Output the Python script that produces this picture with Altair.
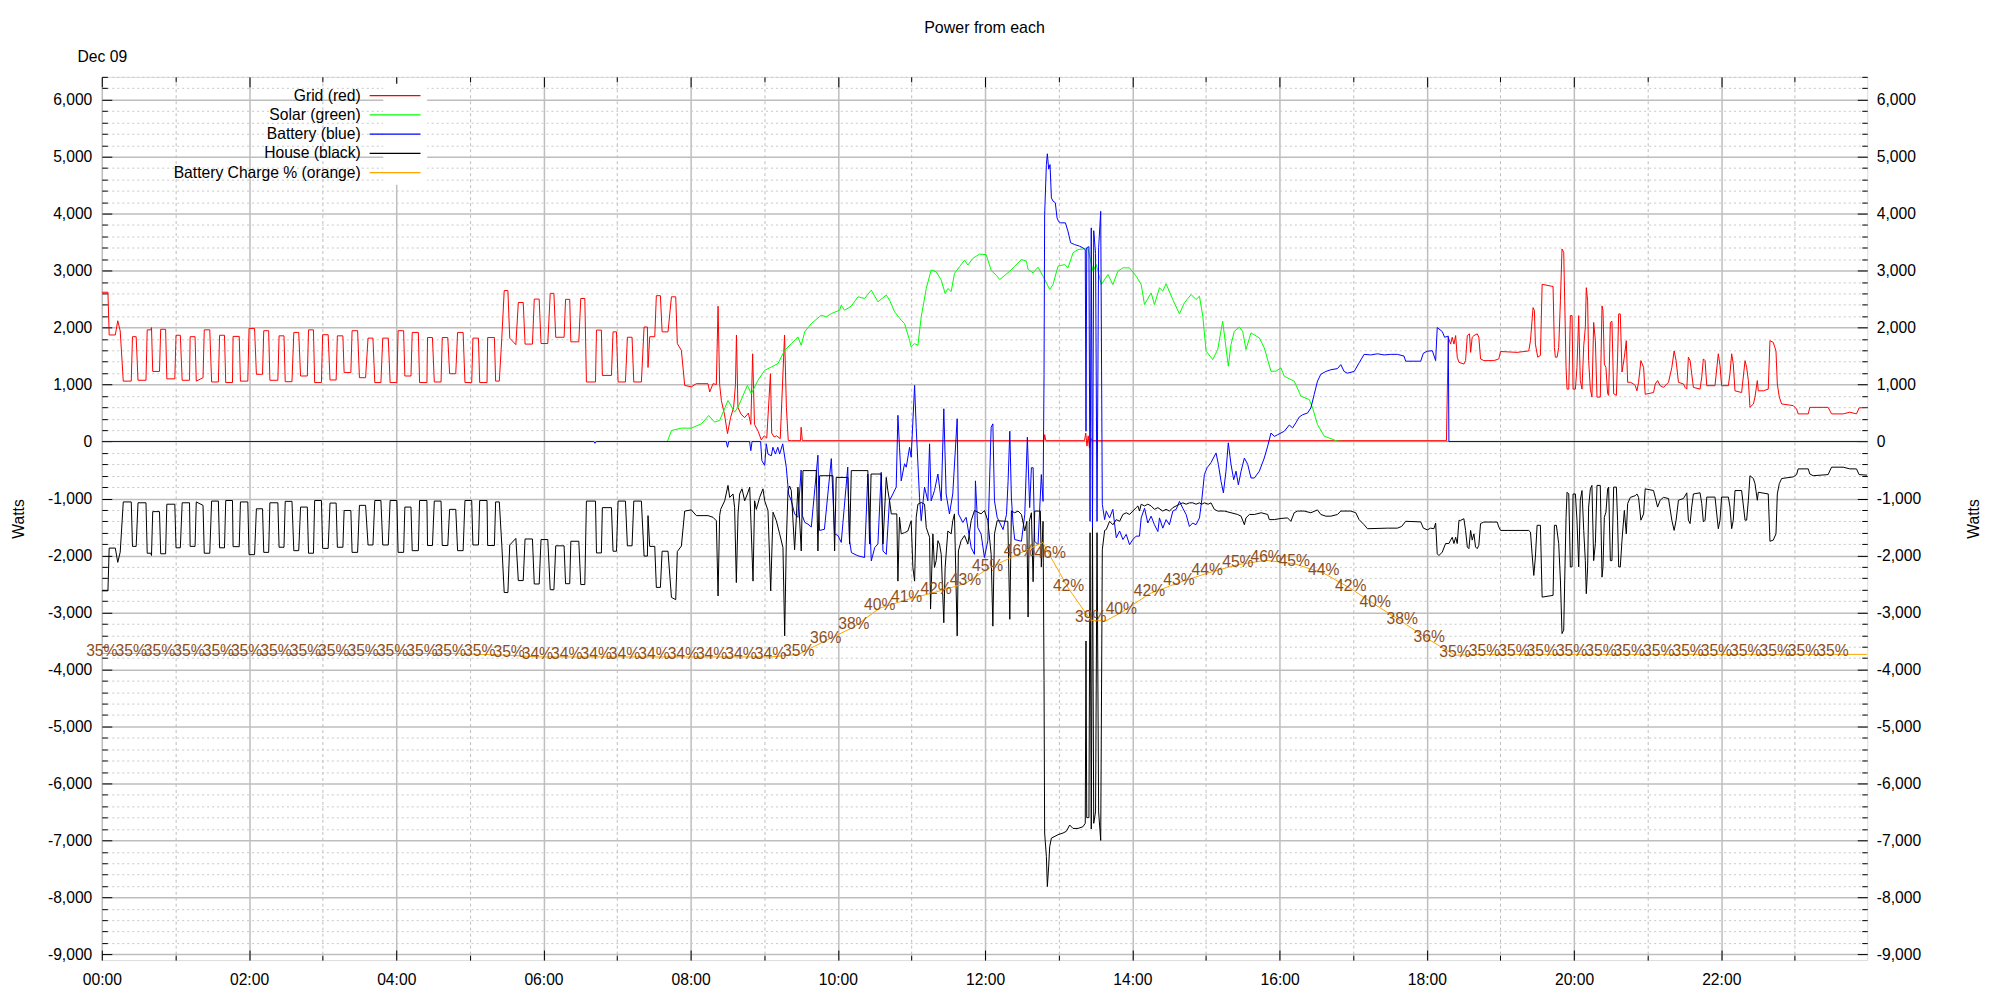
import altair as alt
import pandas as pd

# ---------------- data (minute of day, watts) ----------------
GRID = [
(0,2620),(5,2620),(6,1870),(11,1870),(13,2120),(15,1940),(17.5,1060),(24,1060),
(25,1840),(28,1840),(29.5,1075),(36,1075),(37,1960),(40,1960),(40.5,2000),(41.5,1230),(47,1230),
(48,1970),(52,1970),(53,1100),(59.5,1100),(60.5,1865),(64,1865),(65.5,1075),(71.5,1075),
(72,1840),(76,1840),(77,1060),(82.5,1120),(83.5,1960),(88,1960),(89.5,1045),(95,1045),
(96,1865),(100,1865),(101,1035),(106.5,1035),(107,1845),(112,1845),(113,1060),(119,1060),
(120,1985),(124.5,1985),(126,1180),(131,1180),(132,1945),(136,1945),(137,1075),(143.5,1075),
(144.5,1855),(148.5,1855),(149.5,1050),(155,1050),(156.5,1915),(160.5,1915),(162,1150),(167.5,1150),
(168.5,1960),(172.5,1960),(173.5,1035),(179,1035),(180,1875),(184.5,1875),(186,1080),(191,1080),
(192,1855),(196.5,1855),(197.5,1210),(203,1210),(204,1945),(208.5,1945),(210,1120),(215,1120),
(217,1815),(221,1815),(222.5,1035),(227.5,1035),(229,1815),(233.5,1815),(235,1035),(240.5,1035),
(241.5,1945),(246,1945),(247,1150),(252,1150),(253,1915),(258,1915),(259,1035),(265,1035),
(265.5,1825),(269.5,1825),(271,1045),(276.5,1045),(277.5,1825),(282,1825),(283.5,1190),(288.5,1190),
(290,1915),(294.5,1915),(296,1035),(301.5,1035),(302.5,1815),(307,1815),(308,1035),(314,1035),
(314.5,1825),(320,1825),(321,1060),(324,1060),(326,1800),(328,2650),(331,2650),(332.5,1815),
(337.5,1700),(339.5,2440),(343.5,2440),(345,1710),(351,1710),(352.5,2500),(356.5,2500),(358,1720),
(363.5,1720),(365.5,2600),(368.5,2600),(370,1830),(376.8,1830),(378,2495),(381.4,2495),(382.3,1750),
(388.8,1750),(390.4,2510),(393.7,2510),(395,1045),(402.4,1045),(403.2,1955),(407.2,1955),(408,1160),
(415.4,1160),(416.7,1925),(419.5,1925),(420.8,1045),(426.8,1045),(428.4,1830),(432.2,1830),(433.6,1045),
(439.8,1045),(442,2010),(444.7,2010),(445.2,1300),(446.6,1840),(450.7,1840),(452,2560),(455.3,2560),
(456.7,1925),(461.5,1925),(464.3,2540),(467.8,2540),(469.1,1720),(472.4,1600),(475.1,985),(480.5,960),
(484.6,1015),(494.1,1015),(495.5,870),(498.2,1015),(500.9,1000),(502.3,2375),(503.6,1000),
(505,720),(507.5,480),(510,140),(512.5,420),(515,600),(516.5,1000),(517.3,1870),(518.5,600),(521,480),
(524,420),(527,500),(529,300),(530.5,1540),(532,300),(535,180),(537.5,30),(540,100),(542,60),(545,1190),
(546,150),(548,80),(550,100),(553,50),(556.5,1870),(558,600),(559.5,20),(562,15),(569.5,15),(570,250),
(571,15),(768,15),(768.5,120),(769.5,15),(801,15),(802,150),(803,-80),(804,100),(805,-110),(806,60),
(807,15),(1096,15),
(1097.5,1830),(1099.4,1710),(1100.7,1830),(1102.1,1710),(1103.5,1860),(1104.8,1480),(1106.2,1390),
(1110.2,1360),(1111.6,1420),(1113,1860),(1114.8,1890),(1115.7,1565),(1117,1830),(1118.4,1860),(1121.1,1890),
(1122.4,1830),(1123.8,1450),(1126.5,1420),(1134.6,1420),(1138.7,1450),(1140.1,1580),(1153.6,1565),
(1163.1,1590),(1164.5,1770),(1166.6,2350),(1167.7,2300),(1168.5,1710),(1170.4,1480),(1172.6,1510),
(1174,2760),(1182.9,2720),(1184,1650),(1184.8,1480),(1186.2,1480),(1187.5,1650),(1188.9,2470),
(1190.2,3380),(1191.6,3320),(1192.4,2470),(1193.5,1300),(1194.3,920),(1195.7,920),(1197,2210),
(1198.4,2210),(1199.2,920),(1201.1,920),(1202.4,1300),(1203.8,2210),(1205.1,1070),(1206.5,920),
(1207.9,1680),(1209.2,2000),(1210,2700),(1211.1,2470),(1211.9,1420),(1213.3,920),(1214.6,780),
(1216,2090),(1217.4,1770),(1218.7,780),(1221.4,780),(1222.8,2380),(1223.6,2300),(1224.7,1360),
(1226,1300),(1227.4,840),(1228.2,810),(1229.6,2090),(1230.9,2110),(1232.3,840),(1234.5,810),
(1235.5,1480),(1236.4,2240),(1237.7,2240),(1239.1,1220),(1241,1480),(1242.6,1770),(1243.7,1040),
(1245.9,1040),(1248.6,1010),(1249.9,980),(1251.3,890),(1252.6,1040),(1254.5,1420),(1256.7,1300),
(1258,830),(1264.8,860),(1266.2,1010),(1268.1,1070),(1270.2,980),(1272.9,950),(1277,1040),
(1279.7,1300),(1281.6,1590),(1283.2,1420),(1285.1,1040),(1289.2,1010),(1290.5,950),(1291.9,920),
(1293.2,1480),(1294.6,1420),(1295.9,1190),(1297.3,950),(1302.7,920),(1304.1,1130),(1305.4,1450),
(1306.8,1420),(1308.2,980),(1314.9,980),(1317.6,1540),(1319,1330),(1320.3,980),(1325.8,980),
(1327.1,1190),(1328.5,1540),(1329.8,1360),(1331.2,890),(1336.6,860),(1339.4,1420),(1340.7,1300),
(1342.1,1070),(1343.4,600),(1346.2,660),(1347.5,780),(1349.4,1070),(1350.2,890),(1354.3,890),
(1358.3,920),(1359.7,1770),(1362.4,1740),(1364.6,1590),(1365.7,1010),(1367.3,780),(1369.2,660),
(1378.7,630),(1381.4,570),(1382.7,485),(1390.9,485),(1392.2,600),(1407.1,600),(1409.9,485),
(1419.4,485),(1424.8,515),(1430.2,485),(1432.4,590),(1439,600),
]

SOLAR = [
(461,0),(464.3,194),(472.4,235),(480.5,235),(488.7,311),(494.7,457),(499.5,340),(503.6,370),
(510.4,721),(515.8,516),(518.6,604),(526.2,985),(529.4,839),(534.8,1073),(540.3,1250),(545.7,1308),
(551.1,1367),(556.6,1601),(562,1718),(567.4,1836),(570.1,1689),(572.9,1924),(578.3,2070),(586.4,2217),
(590.5,2188),(594.6,2246),(601.4,2305),(602.7,2393),(605.4,2305),(610.9,2375),(616.3,2540),(621.7,2510),
(627.2,2657),(632.6,2452),(639.4,2570),(642.1,2481),(646.2,2276),(651.6,2129),(654.3,2070),(658.4,1777),
(659.7,1660),(662.5,1718),(665.2,1690),(667.9,2188),(672,2686),(676,3009),(680.1,2980),(684.2,2833),
(687.4,2598),(689.6,2686),(692.3,2630),(695,2950),(699.1,3067),(703.2,3185),(705.9,3097),(710,3214),
(715.4,3290),(720.8,3280),(725,3000),(729,2920),(731.9,2843),(740.1,2989),(744.1,3077),(749.6,3194),
(753.6,3165),(755,3019),(759.1,2960),(763.1,3060),(767.2,2902),(772.6,2668),(775.3,2755),(779.4,3077),
(784.8,3106),(787.5,3048),(791.6,3311),(795.7,3370),(803.8,3387),(807.9,2989),(810.6,3106),(814.7,2755),
(820.1,2931),(824.1,2755),(828.2,2989),(832.3,3048),(837.7,3048),(843.1,2902),(847.2,2755),(849.9,2404),
(855.3,2609),(858,2404),(862.1,2697),(864.8,2640),(867.5,2767),(872.9,2492),(878.4,2240),(882.4,2434),
(887.9,2580),(891.9,2492),(894.7,2550),(897.4,2200),(900.1,1585),(905.5,1439),(909.6,1615),(913.6,2112),
(918.2,1322),(920.4,1702),(923.1,1936),(927.2,2007),(929.9,1936),(932.6,1615),(936.7,1907),(943.5,1819),
(947.5,1644),(953,1234),(957,1234),(961.1,1293),(963.8,1146),(972,1059),(977.4,796),(984.2,737),
(986.9,591),(990.9,298),(996.4,94),(1007.2,6),(1012.6,0),(1439,0),
]

BATTERY = [
(0,0),(401,0),(402,-30),(403,0),(509,0),(510,-100),(511,0),(528,0),(529,-160),(530,0),(537,0),
(538,-335),(540.3,-420),(541.6,-40),(543,-220),(545.7,-250),(547,-100),(549,-220),(551,-100),(552.5,-220),
(555,-40),(557.9,-450),(559.8,-920),(562,-1040),(564.7,-1270),(567.4,-1330),(570,-500),(571,-1300),
(573,-1420),(575.6,-1450),(578.3,-1500),(583.7,-240),(585,-1560),(589,-1540),(594.6,-300),(597.3,-1620),
(600,-1650),(602.7,-1770),(608,-450),(609.5,-1740),(611,-1950),(616.3,-2005),(621.7,-2035),(624.4,-570),
(627.2,-2095),(630,-1860),(632.6,-1800),(635.3,-540),(636.7,-1920),(639.4,-1980),(642,-1040),(644.8,-920),
(647.5,-800),(648.9,460),(650.2,-100),(651.6,-690),(654.3,-390),(655.7,-450),(658.4,-100),(659.7,-275),
(662.5,985),(663.8,250),(666.5,-980),(667.9,-1390),(670.6,-800),(673.3,-1040),(674.7,-40),(676,-1040),
(678.7,-860),(681.5,-570),(684.2,-1040),(686.3,575),(688.2,-920),(690.9,-1270),(693.6,-920),(697.2,400),
(698.2,-1270),(701.8,-1420),(704.5,-1330),(708.6,-1860),(711.3,-1980),(712.1,-690),(714,-1510),(716.7,-1625),
(719.4,-2035),(722.2,-1740),(724.9,250),(726.3,310),(727.6,-1040),(729.8,-1330),
(734.6,-1545),(737.4,-1280),(738.7,-700),(740.1,181),(741.4,-990),(742.8,-1460),(744.1,-1720),(749.6,-1750),
(752.3,-1280),(754.4,76),(756.3,-1160),(757.7,-460),(759.1,-460),(760.4,-1750),(763.1,-1810),(765.8,-580),
(767.2,-1050),(768,1176),(768.5,3984),(769.9,4860),(770.7,5050),(771.8,4780),(772.9,4860),(774,4276),
(775.3,4220),(777.2,4190),(778.6,3925),(779.9,3860),(781.6,3838),(785.4,3838),(787.5,3691),(789.7,3487),
(792.9,3457),(797,3428),(799.7,3399),(801.6,3370),
(802.2,180),(802.8,3400),(804.6,3420),(805.5,-1400),(806.5,3750),(807.5,-1500),(808.5,3700),(810,3300),
(811.2,-1400),(812.5,3400),(814.2,4040),(815.5,-1100),(817.4,-1370),
(818.7,-1223),(821.4,-1340),(824.1,-1190),(826.9,-1690),(829.6,-1570),(832.3,-1720),(835,-1630),
(837.7,-1810),(840.4,-1720),(843.1,-1660),(845.8,-1660),(847.2,-1340),(849.9,-1170),(852.6,-1430),
(855.3,-1310),(858,-1460),(860.8,-1580),(862.1,-1340),(864.8,-1520),(867.5,-1370),(870.2,-1460),
(873,-1220),(875.7,-1190),(878.4,-1050),(881.1,-1170),(883.8,-1280),(886.5,-1490),(889.2,-1430),
(891.9,-1460),(894.7,-1340),(896.6,-1020),(898.7,-580),(900.9,-460),(904.1,-370),(908.2,-200),
(910.1,-400),(912.3,-700),(914.2,-900),(916.3,-520),(918.2,-23),(920.4,-400),(922.6,-670),(924.5,-520),
(926.4,-760),(928.6,-520),(931.3,-290),(934,-400),(936.7,-640),(939.4,-640),(943.5,-520),(947.5,-290),
(950.3,-80),(953,150),(955.7,90),(958.4,120),(963.8,180),(967.9,290),(970.6,240),(973.3,330),(976,430),
(978.7,470),(982.8,500),(985.5,590),(988.2,825),(990.9,1060),(993.6,1180),(997.7,1230),(1001.8,1260),
(1007.2,1280),(1009.9,1350),(1012.6,1230),(1015.3,1200),(1020.8,1230),(1024.8,1380),(1028.9,1530),
(1034.3,1520),(1039.7,1540),(1045.2,1520),(1050.6,1530),(1056,1530),(1061.4,1500),(1062.8,1410),
(1075,1410),(1077.2,1550),(1080.4,1585),(1084.5,1594),(1087.2,1420),(1088.5,2000),(1092.6,1930),
(1094.5,1830),(1097.5,1850),(1098,0),(1439,0),
]

HOUSE = [
(0,-2620),(5,-2620),(6,-1870),(11,-1870),(13,-2120),(15,-1940),(17.5,-1060),(24,-1060),
(25,-1840),(28,-1840),(29.5,-1075),(36,-1075),(37,-1960),(40,-1960),(40.5,-2000),(41.5,-1230),(47,-1230),
(48,-1970),(52,-1970),(53,-1100),(59.5,-1100),(60.5,-1865),(64,-1865),(65.5,-1075),(71.5,-1075),
(72,-1840),(76,-1840),(77,-1060),(82.5,-1120),(83.5,-1960),(88,-1960),(89.5,-1045),(95,-1045),
(96,-1865),(100,-1865),(101,-1035),(106.5,-1035),(107,-1845),(112,-1845),(113,-1060),(119,-1060),
(120,-1985),(124.5,-1985),(126,-1180),(131,-1180),(132,-1945),(136,-1945),(137,-1075),(143.5,-1075),
(144.5,-1855),(148.5,-1855),(149.5,-1050),(155,-1050),(156.5,-1915),(160.5,-1915),(162,-1150),(167.5,-1150),
(168.5,-1960),(172.5,-1960),(173.5,-1035),(179,-1035),(180,-1875),(184.5,-1875),(186,-1080),(191,-1080),
(192,-1855),(196.5,-1855),(197.5,-1210),(203,-1210),(204,-1945),(208.5,-1945),(210,-1120),(215,-1120),
(217,-1815),(221,-1815),(222.5,-1035),(227.5,-1035),(229,-1815),(233.5,-1815),(235,-1035),(240.5,-1035),
(241.5,-1945),(246,-1945),(247,-1150),(252,-1150),(253,-1915),(258,-1915),(259,-1035),(265,-1035),
(265.5,-1825),(269.5,-1825),(271,-1045),(276.5,-1045),(277.5,-1825),(282,-1825),(283.5,-1190),(288.5,-1190),
(290,-1915),(294.5,-1915),(296,-1035),(301.5,-1035),(302.5,-1815),(307,-1815),(308,-1035),(314,-1035),
(314.5,-1825),(320,-1825),(321,-1060),(324,-1060),(326,-1800),(328,-2650),(331,-2650),(332.5,-1815),
(337.5,-1700),(339.5,-2440),(343.5,-2440),(345,-1710),(351,-1710),(352.5,-2500),(356.5,-2500),(358,-1720),
(363.5,-1720),(365.5,-2600),(368.5,-2600),(370,-1830),(376.8,-1830),(378,-2495),(381.4,-2495),(382.3,-1750),
(388.8,-1750),(390.4,-2510),(393.7,-2510),(395,-1045),(402.4,-1045),(403.2,-1955),(407.2,-1955),(408,-1160),
(415.4,-1160),(416.7,-1925),(419.5,-1925),(420.8,-1045),(426.8,-1045),(428.4,-1830),(432.2,-1830),(433.6,-1045),
(439.8,-1045),(442,-2010),(444.7,-2010),(445.2,-1300),(446.6,-1840),(450.7,-1840),(452,-2560),(455.3,-2560),
(456.7,-1925),(461.5,-1925),(464.3,-2735),(467.8,-2775),(469.1,-1930),(472.4,-1835),(475.1,-1220),(480.5,-1200),
(484.6,-1300),(494.1,-1300),(498.2,-1330),(500.9,-1390),(502.3,-2710),(503.6,-1300),(504.4,-1190),(507.7,-1040),
(510.4,-770),(511.8,-980),(514.5,-920),(515.8,-1160),(517.2,-2475),(518.6,-1270),(519.9,-920),(521.8,-830),
(524,-1040),(526.2,-920),(528.1,-800),(530.8,-2450),(532.1,-1040),(533.5,-1190),(536.2,-980),(538.9,-830),
(540.3,-1040),(543,-1210),(545.2,-2620),(547.1,-1240),(549.8,-1390),(552.5,-1620),(555.2,-1860),(556.6,-3410),
(557.9,-1800),(559.3,-860),(560.6,-780),(562,-860),(564.7,-1900),(567.4,-800),(570.1,-1920),(571.5,-510),
(582.4,-510),(583.7,-1920),(585.1,-600),(595.9,-600),(597.3,-1920),(598.6,-630),(608.1,-630),(609.5,-1800),
(610.9,-510),(624.4,-510),(625.8,-1800),(627,-570),(635.3,-570),(636.7,-1800),(639.4,-630),(640.7,-860),
(642.1,-1040),(643.5,-1270),(648,-1270),(648.9,-2450),(650.2,-1330),(651.6,-1620),(654.3,-1600),(657,-1570),
(659.7,-1390),(661.1,-2210),(662.5,-2450),(663.8,-1330),(665.2,-1100),(667.9,-1070),(670.6,-1100),(672,-1510),
(674.7,-1680),(675.5,-2940),(677.4,-1620),(678.7,-2210),(680.1,-2090),(681.5,-1740),(682.8,-1800),(684.2,-1980),
(686.3,-3180),(687.4,-2210),(689.6,-1570),(692.3,-1620),(693.6,-1390),(695,-1270),(697.2,-3410),(698.2,-1920),
(700.4,-1740),(703.2,-1650),(705.9,-1800),(708.6,-1390),(711.3,-1210),(714,-1240),(716.7,-1270),(719.4,-1210),
(722.2,-1390),(724.9,-1980),(726.3,-3240),(727.6,-1620),(729.8,-1390),
(737.4,-1400),(738.5,-1400),(740.1,-3120),(741.4,-1220),(744.1,-1250),(746.8,-1220),(749.6,-1280),(752.3,-1570),
(754,-1400),(755,-3080),(756,-1400),(757.7,-1250),(759.1,-2460),(760.4,-1220),(765,-1220),(765.8,-2200),
(767.2,-1400),(768,-4190),(768.5,-6870),(769.9,-7280),(770.7,-7810),(771.8,-7450),(772.6,-7110),(774,-6960),
(779.4,-6900),(783.5,-6870),(786.2,-6840),(788.9,-6730),(791.6,-6790),(795.7,-6790),(799.7,-6760),(801.6,-6700),
(802.2,-3500),(802.8,-6600),(804.6,-6600),(805.5,-1600),(806.5,-6800),(807.5,-1500),(808.5,-6700),(810,-6500),
(811.2,-1600),(812.5,-6500),(814.2,-7000),(815.5,-1900),(817.4,-1560),
(818.7,-1545),(821.4,-1400),(824.1,-1460),(826.9,-1370),(829.6,-1400),(832.3,-1280),(835,-1250),(837.7,-1280),
(840.4,-1220),(843.1,-1160),(844.5,-1130),(845.8,-1220),(847.2,-1100),(849.9,-1130),(852.6,-1100),(855.3,-1130),
(858,-1190),(860.8,-1160),(864.8,-1220),(867.5,-1190),(870.2,-1220),(873,-1160),(875.7,-1130),(878.4,-1100),
(881.1,-1076),(883.8,-1100),(886.5,-1076),(889.2,-1076),(891.9,-1100),(894.7,-1076),(896.6,-1100),(898.7,-1076),
(901.8,-1100),(904.1,-1076),(906.8,-1190),(909.6,-1220),(915,-1220),(920.4,-1250),(925.8,-1280),(928.6,-1310),
(931.3,-1460),(932.6,-1340),(935.4,-1280),(939.4,-1280),(945,-1250),(950.3,-1280),(951.6,-1370),(955.7,-1370),
(961.1,-1350),(966.5,-1340),(969.2,-1400),(971.9,-1250),(974.6,-1220),(980,-1220),(985.5,-1250),(990.9,-1200),
(993.6,-1280),(997.7,-1310),(1001.8,-1310),(1007.2,-1280),(1009.9,-1220),(1018,-1220),(1022.1,-1250),
(1024.8,-1370),(1028.9,-1460),(1031.6,-1530),(1047.9,-1520),(1056,-1520),(1059.5,-1490),(1062.8,-1400),
(1075,-1410),(1077.2,-1520),(1080.4,-1550),(1083.1,-1520),(1085.8,-1530),(1087.2,-1430),(1088.5,-1970),
(1089.9,-2000),(1092.6,-1940),(1095.3,-1790),(1098,-1790),
(1099.4,-1730),(1100.7,-1680),(1102.1,-1790),(1103.5,-1680),(1104.8,-1790),(1106.2,-1384),(1107.5,-1384),
(1110.2,-1355),(1111.6,-1560),(1113,-1850),(1114.3,-1880),(1115.7,-1560),(1117,-1730),(1118.4,-1620),
(1119.7,-1850),(1121.1,-1880),(1122.4,-1820),(1123.8,-1440),(1126.5,-1413),(1137.4,-1413),(1138.7,-1500),
(1140.1,-1560),(1163.1,-1560),(1164.5,-1590),(1165.8,-1970),(1167.2,-2350),(1168.5,-2030),(1169.9,-1470),
(1172.6,-1470),(1174,-2730),(1182.9,-2700),(1184,-1470),(1185.6,-1470),(1187.5,-1790),(1188.9,-2430),
(1190.2,-3370),(1191.6,-3310),(1192.4,-2430),(1193.5,-1330),(1194.3,-890),(1195.7,-920),(1197,-2200),
(1198.4,-2200),(1199.2,-920),(1201.1,-920),(1202.4,-1380),(1203.8,-2200),(1205.1,-1030),(1206.5,-860),
(1207.9,-1560),(1209.2,-2090),(1210,-2670),(1211.1,-2200),(1211.9,-1150),(1213.3,-830),(1214.6,-770),
(1216,-2090),(1217.4,-1790),(1218.7,-770),(1221.4,-770),(1222.8,-2380),(1223.6,-2200),(1224.7,-1330),
(1226,-1240),(1227.4,-830),(1228.2,-800),(1229.6,-2090),(1230.9,-2090),(1232.3,-800),(1234.5,-800),
(1235.5,-1380),(1236.4,-2200),(1237.7,-2200),(1239.1,-1730),(1241,-1210),(1242.6,-1620),(1243.7,-1090),
(1245.9,-980),(1249.9,-950),(1251.3,-920),(1252.6,-980),(1254.5,-1380),(1256.7,-1270),(1258,-830),
(1264.8,-860),(1266.2,-980),(1268.1,-1150),(1270.2,-1030),(1272.9,-980),(1277,-1000),(1279.7,-1380),
(1281.6,-1560),(1283.2,-1380),(1285.1,-1030),(1289.2,-1000),(1291.9,-900),(1293.2,-1380),(1294.6,-1440),
(1295.9,-1150),(1297.3,-920),(1302.7,-900),(1304.1,-1090),(1305.4,-1410),(1306.8,-1380),(1308.2,-975),
(1314.9,-975),(1317.6,-1530),(1319,-1380),(1320.3,-975),(1325.8,-975),(1327.1,-1150),(1328.5,-1530),
(1329.8,-1380),(1331.2,-860),(1336.6,-860),(1339.4,-1380),(1340.7,-1380),(1342.1,-1030),(1343.4,-600),
(1346.2,-650),(1347.5,-740),(1349.4,-1030),(1350.2,-890),(1358.3,-920),(1359.7,-1750),(1362.4,-1730),
(1364.6,-1620),(1365.7,-920),(1367.3,-740),(1369.2,-650),(1378.7,-620),(1381.4,-580),(1382.7,-480),
(1390.9,-480),(1392.2,-570),(1394.9,-600),(1407.1,-580),(1409.9,-450),(1419.4,-450),(1424.8,-480),
(1430.2,-480),(1432.4,-580),(1439,-590),
]

# battery charge (%): labelled samples, plus unlabelled line samples
LABEL_MIN = [0,24,47,71,95,118,142,166,189,213,237,261,284,308,332,355,379,403,426,450,474,497,521,545,568,
             590,613,634,656,680,704,722,748,773,788,806,831,854,878,901,926,949,972,996,1018,1038,1060,1082,
             1103,1127,1151,1174,1198,1222,1245,1269,1293,1316,1340,1364,1387,1411]
LABEL_PCT = [35.2,35.2,35.2,35.2,35.2,35.2,35.2,35.2,35.2,35.2,35.2,35.2,35.2,35.1,35.0,34.8,34.8,34.8,34.8,
             34.8,34.8,34.8,34.8,34.8,35.1,
             36.7,38.3,40.5,41.5,42.4,43.4,45.1,46.9,46.6,42.8,39.1,40.0,42.2,43.5,44.6,45.6,46.1,45.7,44.6,
             42.8,40.9,38.9,36.8,
             35.0,35.1,35.1,35.1,35.1,35.1,35.1,35.1,35.1,35.1,35.1,35.1,35.1,35.1]
LABEL_TXT = ["35%"] * 15 + ["34%"] * 9 + ["35%",
             "36%","38%","40%","41%","42%","43%","45%","46%","46%","42%","39%","40%","42%","43%","44%",
             "45%","46%","45%","44%","42%","40%","38%","36%"] + ["35%"] * 14
EXTRA_LINE = [(767, 48.2), (818, 39.0), (1439, 35.1)]

SERIES = ["Grid (red)", "Solar (green)", "Battery (blue)", "House (black)", "Battery Charge % (orange)"]
COLORS = ["#ff0000", "#00ff00", "#0000ff", "#000000", "#ffa500"]

MAJOR_Y = [-9000, -8000, -7000, -6000, -5000, -4000, -3000, -2000, -1000, 0,
           1000, 2000, 3000, 4000, 5000, 6000]
MINOR_Y = [v for v in range(-8800, 6401, 200) if v % 1000 != 0]
MAJOR_H = [0, 2, 4, 6, 8, 10, 12, 14, 16, 18, 20, 22]
MINOR_H = [1, 3, 5, 7, 9, 11, 13, 15, 17, 19, 21, 23]

W_DOMAIN = [-9100, 6400]
P_DOMAIN = [(W_DOMAIN[0] + 9000) / 150.0, (W_DOMAIN[1] + 9000) / 150.0]
X_DOMAIN = [0, 1439 / 60.0]

FONT = "Liberation Sans"
FS = 15.7
GRIDC = "#bebebe"
W, H = 1769, 885


def frame(points, name):
    df = pd.DataFrame(points, columns=["minute", "value"])
    df["hour"] = df["minute"] / 60.0
    df["series"] = name
    return df


grid_df = frame(GRID, SERIES[0])
solar_df = frame(SOLAR, SERIES[1])
batt_df = frame(BATTERY, SERIES[2])
house_df = frame(HOUSE, SERIES[3])
charge_df = frame(list(zip(LABEL_MIN, LABEL_PCT)) + EXTRA_LINE, SERIES[4]).sort_values("minute")
labels_df = pd.DataFrame({"minute": LABEL_MIN, "value": LABEL_PCT, "text": LABEL_TXT})
labels_df["hour"] = labels_df["minute"] / 60.0

common = dict(labelFont=FONT, labelFontSize=FS, labelColor="black", tickColor="black",
              tickWidth=1, domain=False, titleFont=FONT, titleFontSize=FS,
              titleFontWeight="normal", titleColor="black", labelOverlap=False)

watts_label = "datum.value < 0 ? '-' + format(-datum.value, ',') : format(datum.value, ',')"

x_bottom = alt.Axis(
    orient="bottom", values=MAJOR_H,
    labelExpr="(datum.value < 10 ? '0' : '') + datum.value + ':00'",
    tickSize=10, offset=-10, labelPadding=12, labelFlush=False, labelAngle=0,
    grid=True, gridColor=GRIDC, gridWidth=1.5, title=None, **common)
x_bottom_minor = alt.Axis(
    orient="bottom", values=MINOR_H, labels=False, tickSize=5, offset=-5,
    grid=True, gridColor=GRIDC, gridWidth=1, gridDash=[3, 3], title=None, **common)
x_top = alt.Axis(
    orient="top", values=MAJOR_H, labelExpr="datum.value === 0 ? 'Dec 09' : ''",
    tickSize=10, offset=-10, labelPadding=12, labelFlush=False, labelAngle=0,
    grid=False, title=None, **common)
x_top_minor = alt.Axis(
    orient="top", values=MINOR_H, labels=False, tickSize=5, offset=-5,
    grid=False, title=None, **common)
y_left = alt.Axis(
    orient="left", values=MAJOR_Y, labelExpr=watts_label, tickSize=10, offset=-10,
    labelPadding=10, grid=True, gridColor=GRIDC, gridWidth=1.5,
    title="Watts", titleX=-93, titleY=H / 2, titleAngle=270, titleAlign="center",
    titleBaseline="middle", **common)
y_left_minor = alt.Axis(
    orient="left", values=MINOR_Y, labels=False, tickSize=5.5, offset=-5.5,
    grid=True, gridColor="#c8c8c8", gridWidth=1, gridDash=[2, 3], title=None, **common)
y_right = alt.Axis(
    orient="right", values=MAJOR_Y, labelExpr=watts_label, tickSize=10, offset=-10,
    labelPadding=9, grid=False,
    title="Watts", titleX=116, titleY=H / 2, titleAngle=270, titleAlign="center",
    titleBaseline="middle", **common)
y_right_minor = alt.Axis(
    orient="right", values=MINOR_Y, labels=False, tickSize=5.5, offset=-5.5,
    grid=False, title=None, **common)

# legend: a short horizontal stroke (custom path) placed to the right of right-aligned labels
color = alt.Color(
    "series:N", scale=alt.Scale(domain=SERIES, range=COLORS),
    legend=alt.Legend(title=None, orient="none", legendX=282, legendY=7,
                      symbolType="M-5,0H5", symbolSize=104, symbolStrokeWidth=1.3,
                      symbolFillColor="transparent",
                      labelAlign="right", labelOffset={"expr": "-42.25"}, labelFont=FONT,
                      labelFontSize=FS, labelColor="black", labelLimit=0,
                      fillColor="white", padding=4, rowPadding=2.3))

xs = alt.Scale(domain=X_DOMAIN, nice=False, zero=False)


def line(df, xaxis, yaxis, domain=W_DOMAIN):
    return alt.Chart(df).mark_line(strokeWidth=1, clip=True).encode(
        x=alt.X("hour:Q", scale=xs, axis=xaxis),
        y=alt.Y("value:Q", scale=alt.Scale(domain=domain, nice=False, zero=False), axis=yaxis),
        color=color,
        order=alt.Order("minute:Q"),
    )


l_grid = line(grid_df, x_bottom, y_left)
l_solar = line(solar_df, x_top, y_left_minor)
l_batt = line(batt_df, x_bottom_minor, y_right)
l_house = line(house_df, x_top_minor, y_right_minor)
l_charge = line(charge_df, None, None, P_DOMAIN)
l_labels = alt.Chart(labels_df).mark_text(
    font=FONT, fontSize=FS, color="#8b4f1d", align="center", baseline="middle", dy=-3
).encode(
    x=alt.X("hour:Q", scale=xs, axis=None),
    y=alt.Y("value:Q", scale=alt.Scale(domain=P_DOMAIN, nice=False, zero=False), axis=None),
    text="text:N",
)

chart = alt.layer(l_grid, l_solar, l_batt, l_house, l_charge, l_labels).resolve_scale(
    y="independent"
).resolve_axis(
    x="independent", y="independent"
).properties(
    width=W, height=H,
    title=alt.TitleParams("Power from each", font=FONT, fontSize=16, fontWeight="normal",
                          color="black", anchor="middle", frame="group", offset=13),
    padding={"left": 94, "top": 68, "right": 125, "bottom": 30},
    autosize=alt.AutoSizeParams(type="none"),
).configure_view(stroke="black", strokeWidth=1.2).configure(background="white")

chart.save("out.html", embed_options={"renderer": "svg", "actions": False})
